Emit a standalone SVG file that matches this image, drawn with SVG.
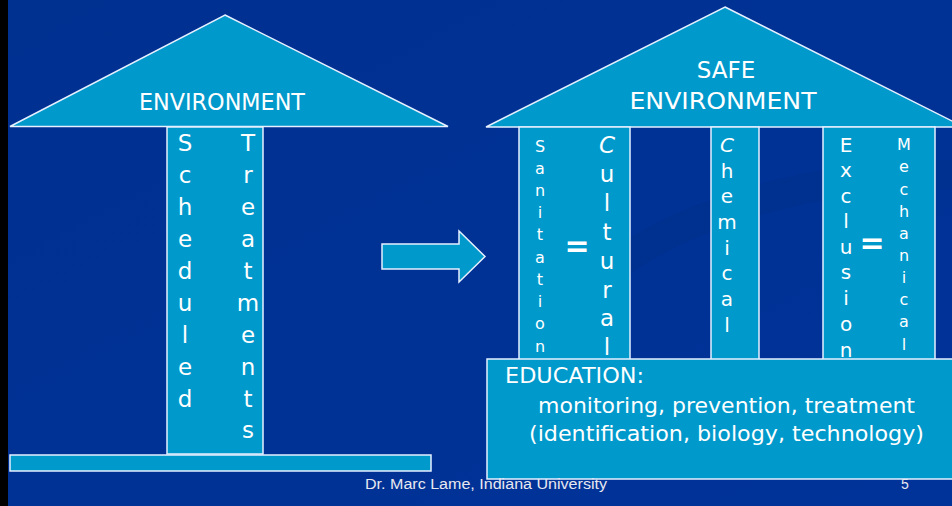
<svg xmlns="http://www.w3.org/2000/svg" width="952" height="506" viewBox="0 0 952 506">
  <defs>
    <style>
      .shape { fill: #0099CC; stroke: #E6F0FF; stroke-width: 1.5; }
      .t { fill: #FFFFFF; font-family: "DejaVu Sans", "Noto Sans", sans-serif; }
      .big { font-size: 23px; }
      .mid { font-size: 21px; }
      .col { font-size: 23px; text-anchor: middle; }
      .sm { font-size: 16px; text-anchor: middle; }
      .eq { font-size: 30px; font-weight: bold; text-anchor: middle; }
      .foot { fill: #E8E8F0; font-family: "Liberation Sans", Arial, sans-serif; font-size: 14px; }
    </style>
    <linearGradient id="bg" x1="0" y1="0" x2="1" y2="1">
      <stop offset="0" stop-color="#003090"/>
      <stop offset="1" stop-color="#003399"/>
    </linearGradient>
  </defs>

  <rect x="0" y="0" width="952" height="506" fill="url(#bg)"/>
  <rect x="0" y="0" width="8" height="506" fill="#000000"/>
  <path d="M 610 270 C 700 200, 860 170, 952 175" fill="none" stroke="#00308a" stroke-width="30" opacity="0.5"/>

  <g id="left-temple">
    <g id="left-roof">
      <polygon class="shape" points="225,15 448,126.5 10,126.5"/>
      <text class="t big" x="222" y="110" text-anchor="middle" textLength="166" lengthAdjust="spacingAndGlyphs">ENVIRONMENT</text>
    </g>
    <g id="left-column">
      <rect class="shape" x="167" y="127" width="96" height="327"/>
      <text class="t col">
        <tspan x="185" y="151">S</tspan><tspan x="185" y="183">c</tspan><tspan x="185" y="215">h</tspan><tspan x="185" y="247">e</tspan><tspan x="185" y="279">d</tspan><tspan x="185" y="311">u</tspan><tspan x="185" y="343">l</tspan><tspan x="185" y="375">e</tspan><tspan x="185" y="407">d</tspan>
      </text>
      <text class="t col">
        <tspan x="248" y="151">T</tspan><tspan x="248" y="183">r</tspan><tspan x="248" y="215">e</tspan><tspan x="248" y="247">a</tspan><tspan x="248" y="279">t</tspan><tspan x="248" y="311">m</tspan><tspan x="248" y="343">e</tspan><tspan x="248" y="375">n</tspan><tspan x="248" y="407">t</tspan><tspan x="248" y="438">s</tspan>
      </text>
    </g>
    <g id="left-base">
      <rect class="shape" x="10" y="455" width="421" height="16"/>
    </g>
  </g>

  <g id="connectors">
    <polygon class="shape" points="382,244 459,244 459,231 485,256.5 459,282 459,269 382,269"/>
  </g>

  <g id="right-temple">
    <g id="right-roof">
      <polygon class="shape" points="725,7 964,127 486,127"/>
      <text class="t big" x="726" y="78" text-anchor="middle">SAFE</text>
      <text class="t big" x="723" y="109" text-anchor="middle" textLength="187" lengthAdjust="spacingAndGlyphs">ENVIRONMENT</text>
    </g>
    <g id="column-sanitation-cultural">
      <rect class="shape" x="519" y="127" width="111" height="240"/>
      <text class="t sm">
        <tspan x="540" y="152">S</tspan><tspan x="540" y="174">a</tspan><tspan x="540" y="196">n</tspan><tspan x="540" y="218">i</tspan><tspan x="540" y="240">t</tspan><tspan x="540" y="263">a</tspan><tspan x="540" y="285">t</tspan><tspan x="540" y="307">i</tspan><tspan x="540" y="329">o</tspan><tspan x="540" y="352">n</tspan>
      </text>
      <text class="t eq" x="577" y="256">=</text>
      <text class="t col">
        <tspan x="607" y="153" font-style="italic">C</tspan><tspan x="607" y="182">u</tspan><tspan x="607" y="211">l</tspan><tspan x="607" y="240">t</tspan><tspan x="607" y="269">u</tspan><tspan x="607" y="298">r</tspan><tspan x="607" y="326">a</tspan><tspan x="607" y="355">l</tspan>
      </text>
    </g>
    <g id="column-chemical">
      <rect class="shape" x="711" y="127" width="48" height="240"/>
      <text class="t" style="font-size:20px; text-anchor:middle">
        <tspan x="727" y="152" font-style="italic">C</tspan><tspan x="727" y="178">h</tspan><tspan x="727" y="203">e</tspan><tspan x="727" y="229">m</tspan><tspan x="727" y="255">i</tspan><tspan x="727" y="280">c</tspan><tspan x="727" y="306">a</tspan><tspan x="727" y="332">l</tspan>
      </text>
    </g>
    <g id="column-exclusion-mechanical">
      <rect class="shape" x="823" y="127" width="112" height="240"/>
      <text class="t" style="font-size:20px; text-anchor:middle">
        <tspan x="846" y="152">E</tspan><tspan x="846" y="177">x</tspan><tspan x="846" y="203">c</tspan><tspan x="846" y="228">l</tspan><tspan x="846" y="254">u</tspan><tspan x="846" y="279">s</tspan><tspan x="846" y="305">i</tspan><tspan x="846" y="331">o</tspan><tspan x="846" y="357">n</tspan>
      </text>
      <text class="t eq" x="872" y="253">=</text>
      <text class="t sm">
        <tspan x="904" y="150">M</tspan><tspan x="904" y="172">e</tspan><tspan x="904" y="195">c</tspan><tspan x="904" y="217">h</tspan><tspan x="904" y="239">a</tspan><tspan x="904" y="261">n</tspan><tspan x="904" y="283">i</tspan><tspan x="904" y="305">c</tspan><tspan x="904" y="327">a</tspan><tspan x="904" y="350">l</tspan>
      </text>
    </g>
    <g id="education-base">
      <rect class="shape" x="487" y="359" width="480" height="120"/>
      <text class="t mid" x="505" y="383" textLength="139" lengthAdjust="spacingAndGlyphs">EDUCATION:</text>
      <text class="t mid" x="538" y="413" textLength="377" lengthAdjust="spacingAndGlyphs">monitoring, prevention, treatment</text>
      <text class="t mid" x="529" y="441" textLength="395" lengthAdjust="spacingAndGlyphs">(identification, biology, technology)</text>
    </g>
  </g>

  <g id="footer">
    <text class="foot" x="365" y="489" textLength="242" lengthAdjust="spacingAndGlyphs">Dr. Marc Lame, Indiana University</text>
    <text class="foot" x="905" y="489" text-anchor="middle">5</text>
  </g>
</svg>
